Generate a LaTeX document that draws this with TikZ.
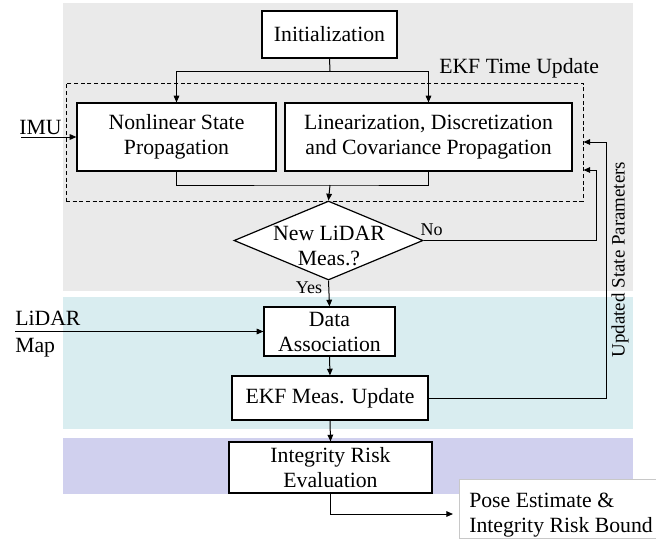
\documentclass[tikz,border=0pt]{standalone}
\usepackage{fontspec}
\setmainfont{Liberation Serif}
\usetikzlibrary{shapes.geometric,arrows.meta}
\definecolor{bggray}{HTML}{EAEAEA}
\definecolor{bgteal}{HTML}{D9EDF0}
\definecolor{bgpurple}{HTML}{D0D0EE}
\definecolor{poseline}{HTML}{C8C8C8}
\def\px{0.75pt}
\begin{document}
\begin{tikzpicture}[x=0.75pt,y=-0.75pt,
  txt/.style={font=\fontsize{16.3}{18.75}\selectfont, align=center},
  smalltxt/.style={font=\fontsize{13.5}{16}\selectfont, inner sep=0pt},
  box/.style={txt, draw=black, fill=white, line width=0.9pt, inner sep=0pt},
  ln/.style={line width=0.75pt},
  arr/.style={ln, -{Triangle[length=5pt,width=4.2pt]}},
]
\useasboundingbox (0,0) rectangle (656,539);
% background bands
\fill[bggray] (63,3) rectangle (633,291);
\fill[bgteal] (63,297) rectangle (633,429);
\fill[bgpurple] (63,438) rectangle (633,494);

% time update group
\node[draw=black, dashed, dash pattern=on 3pt off 2pt, line width=0.75pt,
      minimum width=517*\px, minimum height=118*\px, inner sep=0pt] (tubox) at (324.5,142) {};
\node[txt, anchor=west, inner sep=0pt] (tu) at (439,68) {EKF Time Update};

\node[box, minimum width=135*\px, minimum height=47*\px] (init) at (329.5,34.5) {Initialization};
\node[box, minimum width=199*\px, minimum height=68*\px] (nl) at (176.5,137) {Nonlinear State\\Propagation};
\node[box, minimum width=287*\px, minimum height=68*\px] (lin) at (428.5,137) {Linearization, Discretization\\and Covariance Propagation};

\coordinate (j1) at (330,71);
\draw[ln] (init.south) -- (j1);
\draw[arr] (j1) -| (nl.north);
\draw[arr] (j1) -| (lin.north);

\coordinate (j2) at (330,185);
\draw[ln] (nl.south) |- (j2) -| (lin.south);

% IMU input
\node[txt, anchor=west, inner sep=0pt] (imu) at (19,127) {IMU};
\coordinate (imu0) at (21,137);
\draw[arr] (imu0) -- (nl.west);

% decision
\node[draw=black, diamond, fill=white, line width=0.9pt, inner sep=0pt,
      minimum width=189*\px, minimum height=79*\px] (dec) at (328.5,240.5) {};
\node[txt, inner sep=0pt] (dect) at (329,245.5) {New LiDAR\\Meas.?};
\draw[arr] (j2) -- (dec.north);

\node[smalltxt] (no) at (431.5,230) {No};
\coordinate (nofb) at (596,170);
\draw[arr] (dec.east) -| (nofb) -- (tubox.east |- nofb);

\node[smalltxt] (yes) at (309,288) {Yes};

% measurement update
\node[box, minimum width=131*\px, minimum height=49*\px] (da) at (329.5,331.5) {Data\\Association};
\draw[arr] (dec.south) -- (da.north);

\node[txt, anchor=west, inner sep=0pt] (lidar) at (15,318) {LiDAR};
\node[txt, anchor=west, inner sep=0pt] (map) at (15,348) {Map};
\coordinate (lid0) at (15,331.5);
\draw[arr] (lid0) -- (da.west);

\node[box, minimum width=196*\px, minimum height=44*\px] (ekf) at (330,398) {EKF Meas. Update};
\draw[arr] (da.south) -- (ekf.north);

\coordinate (fb) at (606,142);
\draw[arr] (ekf.east) -| (fb) -- (tubox.east |- fb);

\node[font=\fontsize{14.2}{16}\selectfont, rotate=90, inner sep=0pt] (usp) at (620,259.5) {Updated State Parameters};

% integrity
\node[box, minimum width=203*\px, minimum height=51*\px] (ir) at (330.5,467.5) {Integrity Risk\\Evaluation};
\draw[arr] (ekf.south) -- (ir.north);

\node[draw=poseline, fill=white, line width=0.6pt, minimum width=203*\px, minimum height=59*\px, inner sep=0pt] (pose) at (560.5,508.5) {};
\node[txt, align=left, anchor=west, inner sep=0pt] (poset) at (469,515.5) {Pose Estimate \&\\Integrity Risk Bound};
\coordinate (pin) at (453,514);
\draw[arr] (ir.south) |- (pin);
\end{tikzpicture}
\end{document}
